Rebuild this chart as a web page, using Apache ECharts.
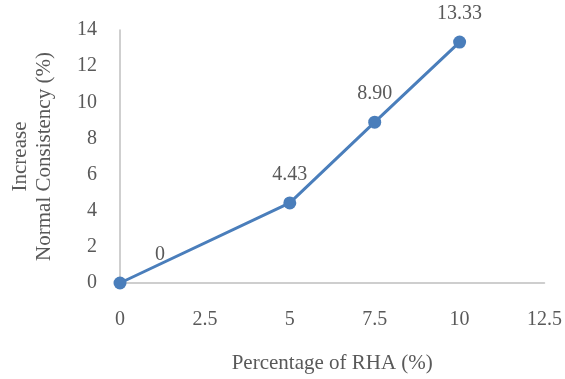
<!DOCTYPE html>
<html>
<head>
<meta charset="utf-8">
<script src="https://cdn.jsdelivr.net/npm/echarts@6/dist/echarts.min.js"></script>
<style>
  html, body { margin: 0; padding: 0; background: #ffffff; }
  #chart { width: 565px; height: 379px; }
</style>
</head>
<body>
<div id="chart"></div>
<script>
// RHA content (%) and the resulting increase in normal consistency (%)
const rhaPercent = [0, 5, 7.5, 10];
const consistencyIncrease = [0, 4.43, 8.90, 13.33];
const valueLabels = ['0', '4.43', '8.90', '13.33'];

const FONT = '"Liberation Serif", "Times New Roman", serif';
const TEXT = '#595959';
const AXIS = '#bfbfbf';
const BLUE = '#4a7ebb';

const points = rhaPercent.map((x, i) => ({
  value: [x, consistencyIncrease[i]],
  label: i === 0
    ? { show: true, position: 'top', offset: [40, 0], formatter: valueLabels[i] }
    : { show: true, position: 'top', formatter: valueLabels[i] }
}));

const chart = echarts.init(document.getElementById('chart'), null, { renderer: 'canvas' });
chart.setOption({
  animation: false,
  backgroundColor: '#ffffff',
  grid: { left: 120, right: 20, top: 30, bottom: 96, containLabel: false },
  xAxis: {
    type: 'value',
    min: 0, max: 12.5, interval: 2.5,
    name: 'Percentage of RHA (%)',
    nameLocation: 'middle',
    nameGap: 70,
    nameTextStyle: { fontFamily: FONT, fontSize: 21, color: TEXT },
    axisLine: { show: true, lineStyle: { color: AXIS, width: 1.5 } },
    axisTick: { show: false },
    splitLine: { show: false },
    axisLabel: { fontFamily: FONT, fontSize: 20, color: TEXT, margin: 27 }
  },
  yAxis: {
    type: 'value',
    min: 0, max: 14, interval: 2,
    name: 'Increase\nNormal Consistency (%)',
    nameLocation: 'middle',
    nameRotate: 90,
    nameGap: 64,
    nameTextStyle: { fontFamily: FONT, fontSize: 21, color: TEXT, lineHeight: 24 },
    axisLine: { show: true, lineStyle: { color: AXIS, width: 1.5 } },
    axisTick: { show: false },
    splitLine: { show: false },
    axisLabel: { fontFamily: FONT, fontSize: 20, color: TEXT, margin: 23 }
  },
  series: [{
    type: 'line',
    data: points,
    symbol: 'circle',
    symbolSize: 13,
    itemStyle: { color: BLUE },
    lineStyle: { color: BLUE, width: 3 },
    label: { fontFamily: FONT, fontSize: 20, color: TEXT, distance: 12 }
  }]
});
</script>
</body>
</html>
